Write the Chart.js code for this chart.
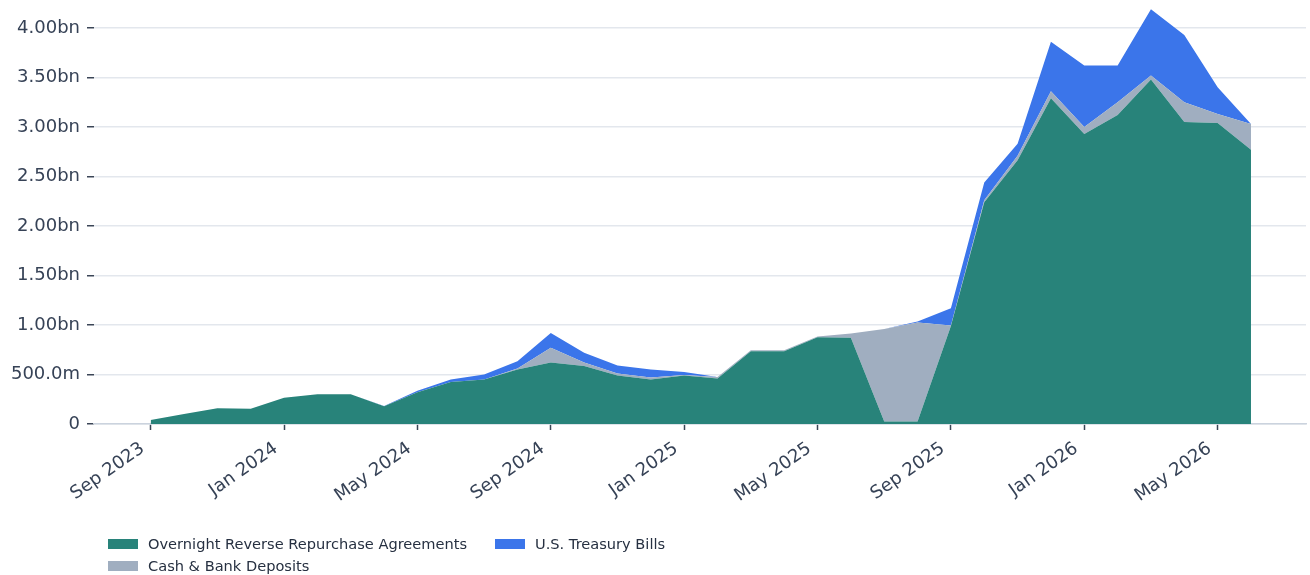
<!DOCTYPE html>
<html><head><meta charset="utf-8">
<script src="https://cdn.jsdelivr.net/npm/chart.js@4.4.0/dist/chart.umd.min.js"></script>
<style>
html,body{margin:0;padding:0;background:#fff;}
#wrap{position:relative;width:1310px;height:575px;overflow:hidden;}
canvas{position:absolute;left:0;top:0;}
.lg{position:absolute;font-family:'DejaVu Sans',sans-serif;font-size:14.6px;color:#263041;white-space:nowrap;line-height:18px;}
.sw{position:absolute;width:30px;height:10px;}
</style></head><body>
<div id="wrap"><canvas id="c" width="1310" height="575"></canvas><div id="legend"></div></div>
<script>
// Months from Sep 2023 (index 0) to Jun 2026 (index 33)
const months = ['Sep 2023','Oct 2023','Nov 2023','Dec 2023','Jan 2024','Feb 2024','Mar 2024','Apr 2024','May 2024','Jun 2024','Jul 2024','Aug 2024','Sep 2024','Oct 2024','Nov 2024','Dec 2024','Jan 2025','Feb 2025','Mar 2025','Apr 2025','May 2025','Jun 2025','Jul 2025','Aug 2025','Sep 2025','Oct 2025','Nov 2025','Dec 2025','Jan 2026','Feb 2026','Mar 2026','Apr 2026','May 2026','Jun 2026'];
// values in millions
const repoValues  = [40,100,160,155,265,300,300,180,320,425,450,550,620,585,490,450,490,460,735,735,875,870,25,25,990,2240,2665,3290,2930,3120,3480,3050,3040,2770];
const cashValues  = [0,0,0,0,0,0,0,0,0,0,0,10,150,35,20,20,5,15,10,10,10,45,935,1000,5,20,45,70,70,130,40,200,90,260];
const billsValues = [0,0,0,0,0,0,0,3,15,25,50,75,150,100,80,80,30,0,0,0,0,0,0,10,175,180,120,500,620,370,670,680,270,0];
const seriesNames = ['Overnight Reverse Repurchase Agreements','Cash & Bank Deposits','U.S. Treasury Bills'];
const seriesColors = ['#28837a','#a0aec0','#3b75ea'];
const xTickIndex = [0,4,8,12,16,20,24,28,32];
const xTickLabels = ['Sep 2023','Jan 2024','May 2024','Sep 2024','Jan 2025','May 2025','Sep 2025','Jan 2026','May 2026'];
const yTickValues = [0,500,1000,1500,2000,2500,3000,3500,4000];
const yTickLabels = ['0','500.0m','1.00bn','1.50bn','2.00bn','2.50bn','3.00bn','3.50bn','4.00bn'];

const toPoints = arr => arr.map((v, i) => ({x: i, y: v}));
const allSeries = [repoValues, cashValues, billsValues];
const datasets = allSeries.map((vals, k) => ({
  label: seriesNames[k],
  data: toPoints(vals),
  backgroundColor: seriesColors[k],
  borderColor: 'rgba(0,0,0,0)',
  borderWidth: 0,
  pointRadius: 0,
  tension: 0,
  fill: k === 0 ? 'origin' : '-1'
}));

const textColor = '#364256';
const font = {family: "'DejaVu Sans', sans-serif", size: 18};

new Chart(document.getElementById('c'), {
  type: 'line',
  data: {datasets},
  options: {
    responsive: false,
    animation: false,
    layout: {padding: {top: 5, right: 4, bottom: 70, left: 0}},
    plugins: {legend: {display: false}, tooltip: {enabled: false}},
    scales: {
      x: {
        type: 'linear',
        min: -1.7, max: 34.65,
        z: 1,
        afterFit: s => { s.height = 81; s.paddingLeft = 0; s.paddingRight = 0; },
        afterBuildTicks: s => { s.ticks = xTickIndex.map(v => ({value: v})); },
        border: {display: true, color: '#cbd3de', width: 1.5},
        grid: {display: true, drawOnChartArea: false, drawTicks: true, tickLength: 6, tickColor: '#3a4556', tickWidth: 1.5},
        ticks: {
          autoSkip: false, minRotation: 35, maxRotation: 35, padding: 8, labelOffset: -8,
          color: textColor, font,
          callback: v => { const i = xTickIndex.indexOf(v); return i >= 0 ? xTickLabels[i] : ''; }
        }
      },
      y: {
        type: 'linear',
        stacked: true,
        min: 0, max: 4232,
        z: 1,
        afterFit: s => { s.width = 94; s.paddingTop = 0; s.paddingBottom = 0; },
        afterBuildTicks: s => { s.ticks = yTickValues.map(v => ({value: v})); },
        border: {display: false},
        grid: {color: '#e3e7ed', lineWidth: 1.5, drawTicks: true, tickLength: 7, tickColor: '#3a4556', tickWidth: 1.5},
        ticks: {
          padding: 7, color: textColor, font,
          callback: v => { const i = yTickValues.indexOf(v); return i >= 0 ? yTickLabels[i] : ''; }
        }
      }
    }
  }
});

// Legend (two columns, column-major like the reference)
const legendItems = [
  {k: 0, left: 108, top: 539},
  {k: 2, left: 495, top: 539},
  {k: 1, left: 108, top: 561}
];
const lg = document.getElementById('legend');
legendItems.forEach(it => {
  const sw = document.createElement('div');
  sw.className = 'sw';
  sw.style.left = it.left + 'px';
  sw.style.top = it.top + 'px';
  sw.style.background = seriesColors[it.k];
  lg.appendChild(sw);
  const t = document.createElement('div');
  t.className = 'lg';
  t.style.left = (it.left + 40) + 'px';
  t.style.top = (it.top - 4) + 'px';
  t.textContent = seriesNames[it.k];
  lg.appendChild(t);
});
</script>
</body></html>
